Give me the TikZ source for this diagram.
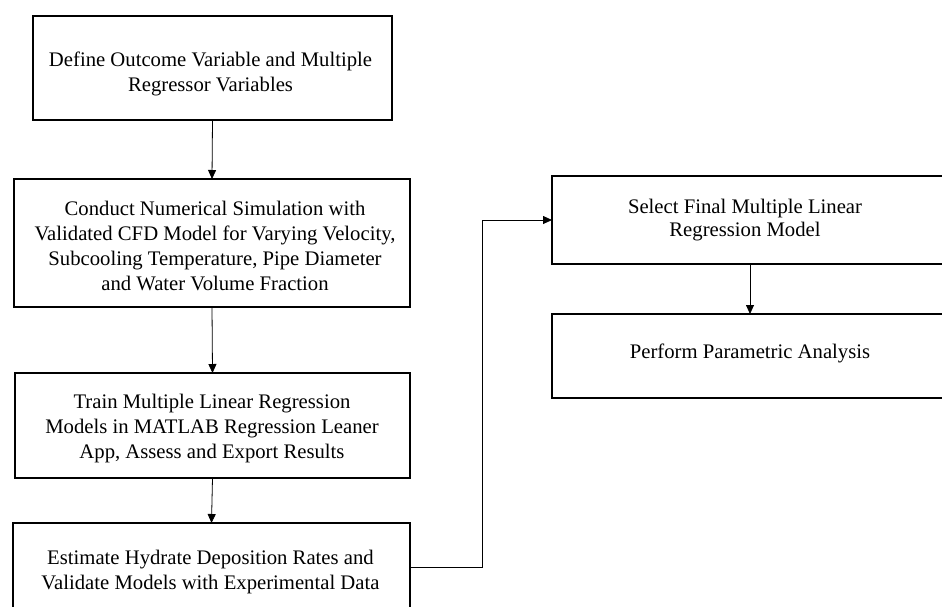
\documentclass[tikz,border=0pt]{standalone}
\usepackage{fontspec}
\setmainfont{Liberation Serif}
\usetikzlibrary{arrows.meta}
\newcommand\tstrut{\rule{0pt}{14.5pt}}
\begin{document}
\begin{tikzpicture}[x=1pt,y=-1pt,
  box/.style={draw, line width=1.2pt, rectangle, inner sep=0pt, outer sep=0pt},
  txt/.style={font=\fontsize{20.7}{25}\selectfont, align=center, inner sep=0pt, anchor=north},
  arr/.style={draw, line width=0.8pt, -{Triangle[length=9pt,width=8pt]}}]
\useasboundingbox (0,0) rectangle (942,606);
\fill[white] (0,0) rectangle (942,606);
\clip (0,0) rectangle (942,606);
% boxes
\node[box, minimum width=359pt, minimum height=104pt] (b1) at (212.5,68) {};
\node[box, minimum width=396pt, minimum height=128pt] (b2) at (212,243) {};
\node[box, minimum width=395pt, minimum height=105pt] (b3) at (212.5,425.5) {};
\node[box, minimum width=397pt, minimum height=117pt] (b4) at (211.5,581.5) {};
\node[box, minimum width=396pt, minimum height=88pt] (b5) at (750,220) {};
\node[box, minimum width=396pt, minimum height=84pt] (b6) at (750,356) {};
% texts
\node[txt] (t1) at (210.5,52.2) {\tstrut Define Outcome Variable and Multiple\\Regressor Variables};
\node[txt] (t2) at (215,200.5) {\tstrut Conduct Numerical Simulation with\\Validated CFD Model for Varying Velocity,\\Subcooling Temperature, Pipe Diameter\\and Water Volume Fraction};
\node[txt] (t3) at (212,393.8) {\tstrut Train Multiple Linear Regression\\Models in MATLAB Regression Leaner\\App, Assess and Export Results};
\node[txt] (t4) at (210.5,549.5) {\tstrut Estimate Hydrate Deposition Rates and\\Validate Models with Experimental Data};
\node[txt, font=\fontsize{20.7}{23}\selectfont] (t5) at (745,198.5) {\tstrut Select Final Multiple Linear\\Regression Model};
\node[txt] (t6) at (750,343.5) {\tstrut Perform Parametric Analysis};
% connectors
\draw[arr] (b1.south) -- (b2.north);
\draw[arr] (b2.south) -- (b3.north);
\draw[arr] (b3.south) -- (b4.north);
\draw[arr] ([yshift=14.5pt]b4.east) -- ++(72,0) |- (b5.west);
\draw[arr] (b5.south) -- (b6.north);
\end{tikzpicture}
\end{document}
